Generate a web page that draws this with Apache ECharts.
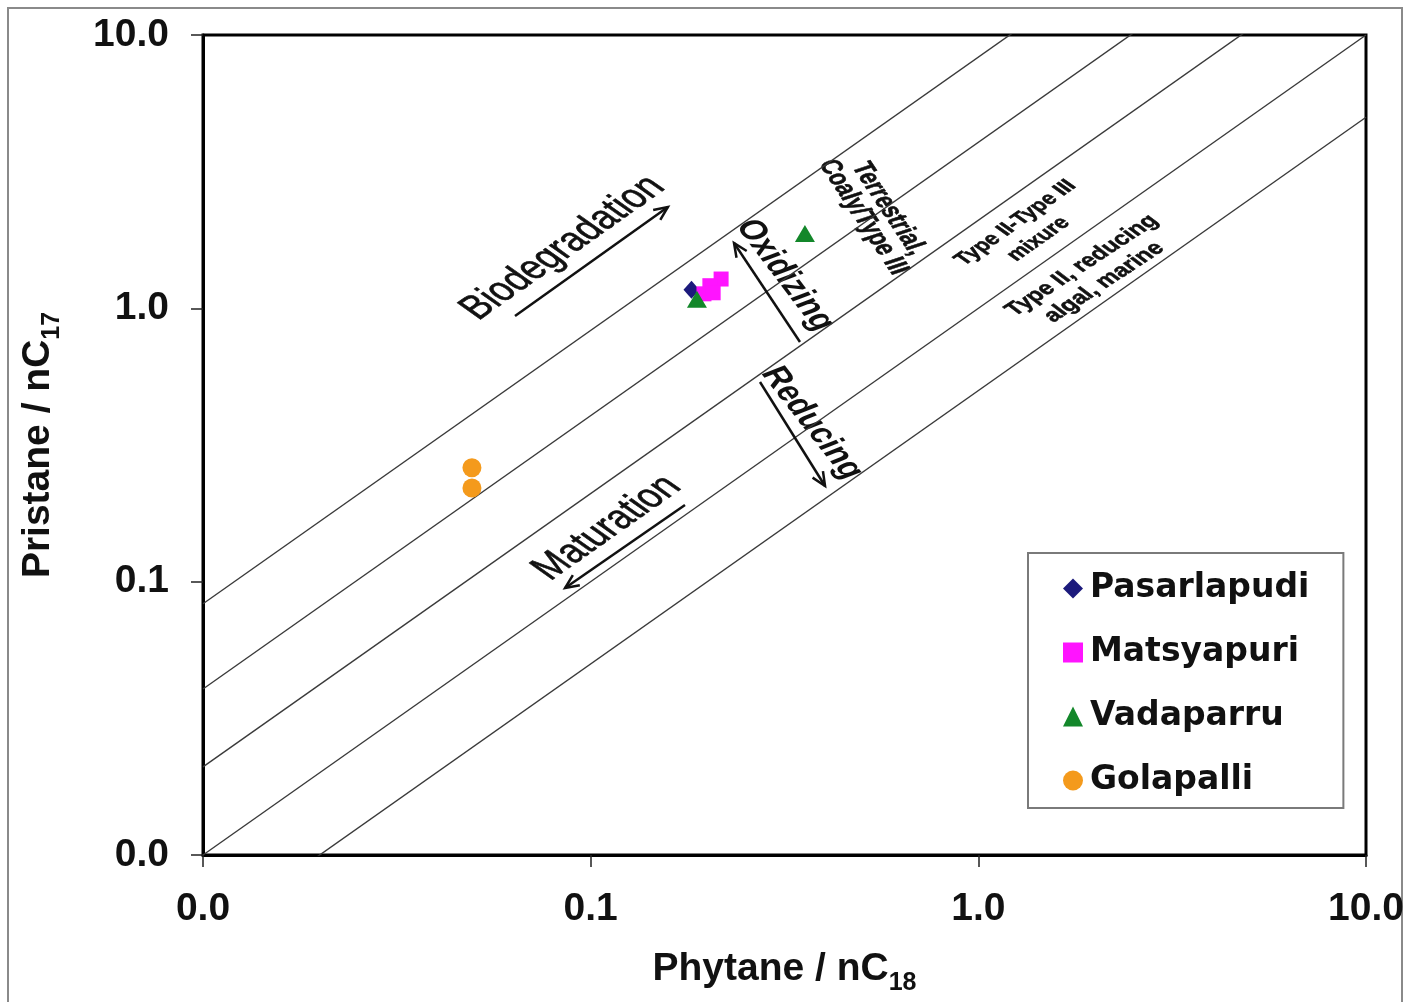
<!DOCTYPE html>
<html>
<head>
<meta charset="utf-8">
<script src="https://cdn.jsdelivr.net/npm/echarts@6/dist/echarts.min.js"></script>
<style>
  html, body { margin: 0; padding: 0; background: #fff; }
  #chart { width: 1410px; height: 1002px; }
</style>
</head>
<body>
<div id="chart"></div>
<script>
// Pristane/nC17 vs Phytane/nC18 cross-plot (log-log) with source/environment guide lines

const axisTicks = [0.01, 0.1, 1, 10];
// guide lines: Pr/nC17 = k * Ph/nC18
const guideRatios = [8.3, 4.05, 2.1, 1.0, 0.5];

const seriesNames = ['Pasarlapudi', 'Matsyapuri', 'Vadaparru', 'Golapalli'];
const pasarlapudi = [[0.182, 1.17]];
const matsyapuri = [[0.217, 1.28], [0.203, 1.21], [0.196, 1.13], [0.207, 1.14]];
const vadaparru = [[0.188, 1.08], [0.357, 1.88]];
const golapalli = [[0.0494, 0.261], [0.0494, 0.220]];

const chart = echarts.init(document.getElementById('chart'), null, { renderer: 'canvas' });

const labelFont = { fontFamily: 'Liberation Sans, Arial, sans-serif', fontWeight: 'bold', color: '#111' };

function logAxis(extra) {
  return Object.assign({
    type: 'log',
    logBase: 10,
    min: axisTicks[0],
    max: axisTicks[axisTicks.length - 1],
    axisLine: { show: true, lineStyle: { color: '#000', width: 3 } },
    axisTick: { show: true, length: 12, lineStyle: { color: '#222', width: 1.5 } },
    minorTick: { show: false },
    splitLine: { show: false }
  }, extra);
}

const nameRich = {
  m: { fontSize: 39, fontWeight: 'bold', fontFamily: 'Liberation Sans, Arial, sans-serif', color: '#111', lineHeight: 46, verticalAlign: 'top' },
  s: { fontSize: 25, fontWeight: 'bold', fontFamily: 'Liberation Sans, Arial, sans-serif', color: '#111', lineHeight: 25, verticalAlign: 'bottom' }
};

const guideSeries = guideRatios.map(k => ({
  type: 'line',
  name: 'k=' + k,
  silent: true,
  symbol: 'none',
  clip: true,
  z: 1,
  lineStyle: { color: '#3a3a3a', width: 1.4 },
  data: [axisTicks[0], axisTicks[axisTicks.length - 1]].map(x => [x, k * x])
}));

const pointSeries = [
  { name: seriesNames[0], symbol: 'diamond', symbolSize: [16, 18], color: '#1c1a7c', data: pasarlapudi },
  { name: seriesNames[1], symbol: 'rect', symbolSize: 15, color: '#ff14ff', data: matsyapuri },
  { name: seriesNames[2], symbol: 'triangle', symbolSize: [20, 17], color: '#13872a', data: vadaparru },
  { name: seriesNames[3], symbol: 'circle', symbolSize: 19, color: '#f49a1c', data: golapalli }
].map(s => ({
  type: 'scatter',
  name: s.name,
  symbol: s.symbol,
  symbolSize: s.symbolSize,
  itemStyle: { color: s.color, opacity: 1 },
  z: 3,
  data: s.data
}));

const option = {
  animation: false,
  backgroundColor: '#fff',
  grid: {
    left: 203, right: 44, top: 35, bottom: 147,
    show: true, borderColor: '#000', borderWidth: 3, backgroundColor: 'transparent'
  },
  xAxis: logAxis({
    name: '{m|Phytane / nC}{s|18}',
    nameLocation: 'middle',
    nameGap: 95,
    nameTextStyle: { rich: nameRich },
    axisLabel: Object.assign({ fontSize: 39, margin: 35, formatter: v => Number(v).toFixed(1) }, labelFont)
  }),
  yAxis: logAxis({
    name: '{m|Pristane / nC}{s|17}',
    nameLocation: 'middle',
    nameGap: 138,
    nameTextStyle: { rich: nameRich },
    axisLabel: Object.assign({ fontSize: 39, margin: 34, formatter: v => Number(v).toFixed(1) }, labelFont)
  }),
  legend: {
    data: seriesNames,
    orient: 'vertical',
    left: 1028,
    top: 553,
    padding: [19, 34, 11, 35],
    itemWidth: 20,
    itemHeight: 20,
    itemGap: 31,
    backgroundColor: '#fff',
    borderColor: '#7a7a7a',
    borderWidth: 2,
    selectedMode: false,
    textStyle: { fontFamily: 'DejaVu Sans, sans-serif', fontWeight: 'bold', fontSize: 33, color: '#111', padding: [0, 0, 0, 2] }
  },
  series: guideSeries.concat(pointSeries)
};

chart.setOption(option);

// ---- annotations (placed in data space, drawn in pixel space) ----
const toPx = p => chart.convertToPixel({ gridIndex: 0 }, p);
const lo = toPx([axisTicks[0], axisTicks[0]]);
const hi = toPx([axisTicks[3], axisTicks[3]]);
// horizontal/vertical aspect of one decade, so rotated labels follow the guide lines
const aspect = (hi[0] - lo[0]) / (lo[1] - hi[1]);

const notes = [
  { text: 'Biodegradation', at: [0.0848, 1.663], angle: 45, size: 34, weight: 'normal', lh: 34, narrow: 0.82, stroke: 0.6 },
  { text: 'Maturation', at: [0.1102, 0.1572], angle: 45, size: 34, weight: 'normal', lh: 34, narrow: 0.82, stroke: 0.6 },
  { text: 'Oxidizing', at: [0.3172, 1.324], angle: -62, size: 27, weight: 'bold', lh: 28, narrow: 1, stroke: 0 },
  { text: 'Reducing', at: [0.3724, 0.3806], angle: -61, size: 27, weight: 'bold', lh: 28, narrow: 1, stroke: 0 },
  { text: 'Terrestrial,\nCoaly/Type III', at: [0.5445, 2.233], angle: -65, size: 21, weight: 'bold', lh: 20, narrow: 0.93, stroke: 0.5 },
  { text: 'Type II-Type III\nmixure', at: [1.335, 1.919], angle: 45, size: 18, weight: 'bold', lh: 23, narrow: 0.92, stroke: 0.5 },
  { text: 'Type II, reducing\nalgal, marine', at: [1.976, 1.336], angle: 43, size: 19, weight: 'bold', lh: 23, narrow: 0.93, stroke: 0.5 }
];

const arrows = [
  { from: [0.0638, 0.938], to: [0.1582, 2.349] },
  { from: [0.1751, 0.1908], to: [0.0859, 0.0948] },
  { from: [0.3467, 0.7529], to: [0.2343, 1.734] },
  { from: [0.2734, 0.5376], to: [0.4023, 0.2239] }
];

const elements = [];

// outer frame
elements.push({
  type: 'rect', silent: true, z: 0,
  shape: { x: 8, y: 8, width: 1394, height: 1000 },
  style: { fill: null, stroke: '#8a8a8a', lineWidth: 2 }
});

notes.forEach(n => {
  const p = toPx(n.at);
  const style = {
    text: n.text,
    fontFamily: 'Liberation Sans, Arial, sans-serif',
    fontWeight: n.weight,
    fontSize: n.size,
    lineHeight: n.lh,
    fill: '#111',
    align: 'center',
    verticalAlign: 'middle'
  };
  if (n.stroke) { style.stroke = '#111'; style.lineWidth = n.stroke; }
  elements.push({
    type: 'group', x: p[0], y: p[1], scaleX: aspect, scaleY: 1, silent: true, z: 10,
    children: [{
      type: 'text',
      rotation: n.angle * Math.PI / 180,
      scaleX: n.narrow,
      style: style
    }]
  });
});

arrows.forEach(a => {
  const p = toPx(a.from), q = toPx(a.to);
  const ang = Math.atan2(q[1] - p[1], q[0] - p[0]);
  const h = 15, spread = 0.42;
  const l = [q[0] - h * Math.cos(ang - spread), q[1] - h * Math.sin(ang - spread)];
  const r = [q[0] - h * Math.cos(ang + spread), q[1] - h * Math.sin(ang + spread)];
  elements.push({
    type: 'line', silent: true, z: 10,
    shape: { x1: p[0], y1: p[1], x2: q[0], y2: q[1] },
    style: { stroke: '#111', lineWidth: 2.5 }
  });
  elements.push({
    type: 'polyline', silent: true, z: 10,
    shape: { points: [l, q, r] },
    style: { stroke: '#111', lineWidth: 2.5, fill: null }
  });
});

chart.setOption({ graphic: { elements: elements } });
</script>
</body>
</html>
